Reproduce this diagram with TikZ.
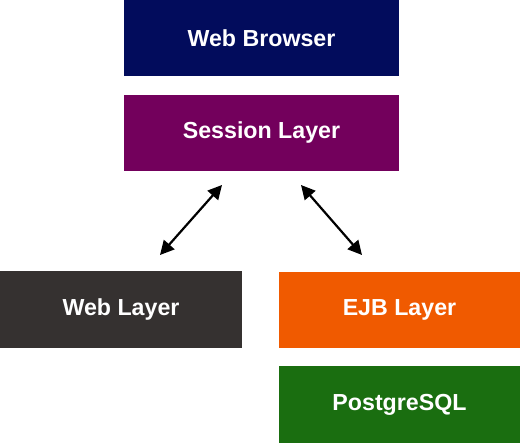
\documentclass[tikz,border=0pt]{standalone}
\usepackage{fontspec}
\setmainfont{Liberation Sans}
\usetikzlibrary{arrows.meta}
\definecolor{navyc}{RGB}{2,12,92}
\definecolor{purplec}{RGB}{115,0,92}
\definecolor{grayc}{RGB}{53,49,48}
\definecolor{orangec}{RGB}{240,90,0}
\definecolor{greenc}{RGB}{26,110,16}
\tikzset{
  layer/.style={rectangle, inner sep=0pt, text=white, font=\fontsize{23.2}{27}\selectfont\bfseries},
  wide/.style={minimum width=275pt, minimum height=76pt},
  narrow/.style={minimum width=242pt, minimum height=77pt},
  link/.style={line width=2.2pt, {Triangle[length=14pt,width=14pt]}-{Triangle[length=14pt,width=14pt]}}
}
\begin{document}
\begin{tikzpicture}[x=1pt,y=1pt]
\useasboundingbox (0,0) rectangle (520,-443);
\node[layer, wide, fill=navyc] (browser) at (261.5,-38) {Web Browser};
\node[layer, wide, fill=purplec] (session) at (261.5,-133) {Session Layer};
\node[layer, narrow, fill=grayc] (web) at (121,-309.5) {Web Layer};
\node[layer, narrow, minimum width=241pt, minimum height=76pt, fill=orangec] (ejb) at (399.5,-310) {EJB Layer};
\node[layer, narrow, minimum width=241pt, fill=greenc] (pg) at (399.5,-404.5) {PostgreSQL};
\coordinate (l1) at (222,-185);
\coordinate (l2) at (160,-255);
\coordinate (r1) at (301,-185);
\coordinate (r2) at (362,-255);
\draw[link] (l1) -- (l2);
\draw[link] (r1) -- (r2);
\end{tikzpicture}
\end{document}
